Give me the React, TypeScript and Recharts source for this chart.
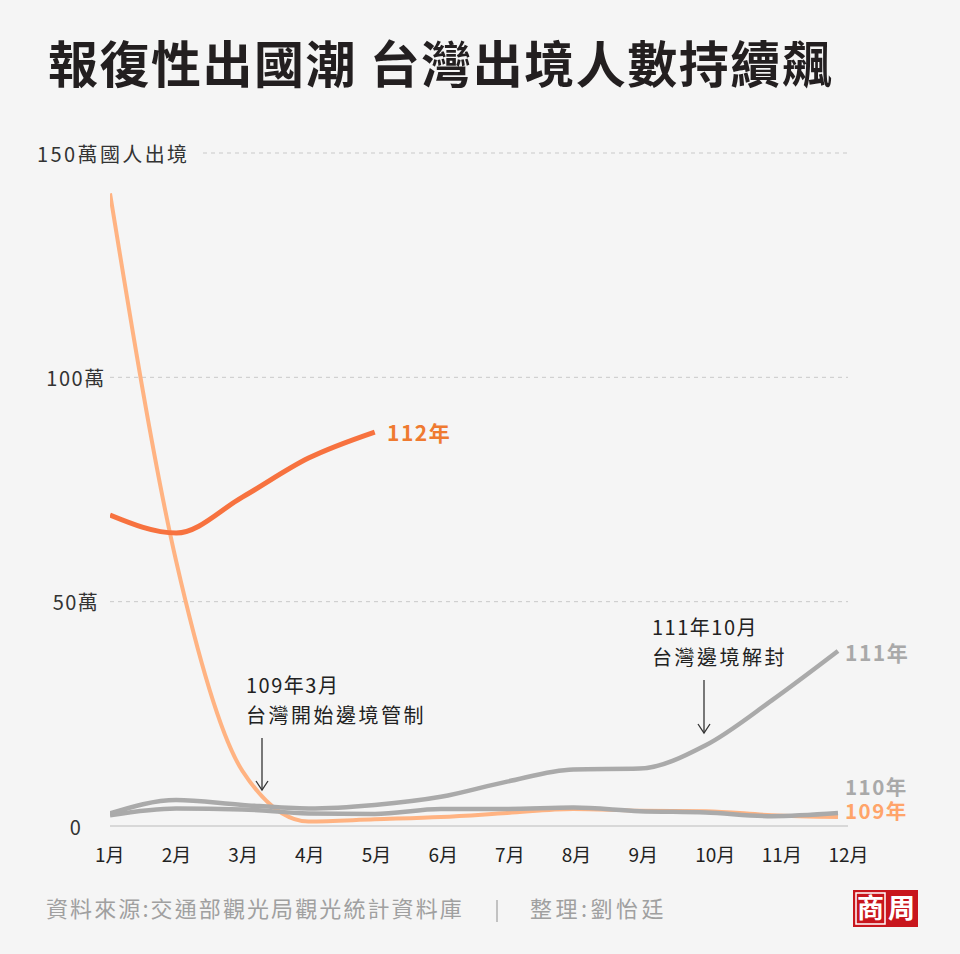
import React from 'react';
import { LineChart, Line, XAxis, YAxis, ReferenceLine } from 'recharts';

const months = ['1月', '2月', '3月', '4月', '5月', '6月', '7月', '8月', '9月', '10月', '11月', '12月'];
const monthIndex = [1, 2, 3, 4, 5, 6, 7, 8, 9, 10, 11, 12];

// 單位：萬人次
const y109 = [141, 59, 12.3, 1.0, 1.5, 2.0, 2.9, 3.8, 3.4, 3.3, 2.4, 2.0];
const y110 = [2.4, 3.9, 3.7, 2.8, 2.7, 3.8, 3.8, 4.1, 3.3, 3.0, 2.2, 2.9];
const y111 = [2.8, 5.8, 4.7, 3.9, 4.7, 6.5, 9.9, 12.6, 12.8, 18.0, 28, 39];
const y112 = [69.3, 65.3, 73.3, 82, 87.8];

const yTicks = [0, 50, 100, 150];
const yTickLabels = ['0', '50萬', '100萬', '150萬國人出境'];

const title = '報復性出國潮 台灣出境人數持續飆';
const source = '資料來源:交通部觀光局觀光統計資料庫';
const editor = '整理:劉怡廷';

const data = monthIndex.map((m, i) => ({
  m,
  y109: y109[i],
  y110: y110[i],
  y111: y111[i],
  y112: i < y112.length ? y112[i] : null,
}));

const FONT = "'Noto Sans CJK TC', 'Noto Sans CJK SC', 'Noto Sans', sans-serif";
const BG = '#f5f5f5';
const ORANGE_DARK = '#f7723f';
const ORANGE_LIGHT = '#ffb382';
const GRAY = '#aaaaaa';

function XTick(props: any) {
  const { x, payload } = props;
  const i = payload.value - 1;
  return (
    <text x={x - 15 + i * 0.5} y={862} textAnchor="start" fontSize={19} fill="#222" fontFamily={FONT}>
      {months[i]}
    </text>
  );
}

function YTick(props: any) {
  const { y, payload } = props;
  const i = yTicks.indexOf(payload.value);
  const isTop = payload.value === 150;
  return (
    <text
      x={isTop ? 37 : 76}
      y={y}
      textAnchor={isTop ? 'start' : 'middle'}
      dominantBaseline="central"
      fontSize={20}
      letterSpacing={isTop ? 2.4 : 1.5}
      fill="#333"
      fontFamily={FONT}
    >
      {yTickLabels[i]}
    </text>
  );
}

function Arrow({ x, y1, y2 }: { x: number; y1: number; y2: number }) {
  return (
    <g stroke="#333" strokeWidth={1.3} fill="none">
      <line x1={x} y1={y1} x2={x} y2={y2} />
      <polyline points={`${x - 6},${y2 - 9} ${x},${y2} ${x + 6},${y2 - 9}`} />
    </g>
  );
}

export default function App() {
  return (
    <div style={{ position: 'absolute', left: 0, top: 0, width: 960, height: 954, background: BG, overflow: 'hidden' }}>
      <div style={{ position: 'absolute', left: 0, top: 0 }}>
        <LineChart width={960} height={954} data={data} margin={{ top: 153, right: 112, bottom: 98, left: 0 }}>
          <XAxis
            dataKey="m"
            type="number"
            domain={[1, 12.151]}
            ticks={monthIndex}
            allowDataOverflow
            axisLine={false}
            tickLine={false}
            height={30}
            tick={<XTick />}
          />
          <YAxis
            type="number"
            domain={[0, 150]}
            ticks={yTicks}
            axisLine={false}
            tickLine={false}
            width={110}
            tick={<YTick />}
          />
          <ReferenceLine y={50} stroke="#c9c9c9" strokeDasharray="4 4" />
          <ReferenceLine y={100} stroke="#c9c9c9" strokeDasharray="4 4" />
          <ReferenceLine
            segment={[{ x: 2.405, y: 150 }, { x: 12.151, y: 150 }]}
            stroke="#c9c9c9"
            strokeDasharray="4 4"
          />
          <ReferenceLine y={0} stroke="#bbbbbb" />
          <Line type="monotone" dataKey="y109" stroke={ORANGE_LIGHT} strokeWidth={4} dot={false} activeDot={false} isAnimationActive={false} />
          <Line type="monotone" dataKey="y110" stroke={GRAY} strokeWidth={4.5} dot={false} activeDot={false} isAnimationActive={false} />
          <Line type="monotone" dataKey="y111" stroke={GRAY} strokeWidth={4.5} dot={false} activeDot={false} isAnimationActive={false} />
          <Line type="monotone" dataKey="y112" stroke={ORANGE_DARK} strokeWidth={5} dot={false} activeDot={false} connectNulls={false} isAnimationActive={false} />
        </LineChart>
      </div>
      <svg width={960} height={954} style={{ position: 'absolute', left: 0, top: 0, pointerEvents: 'none' }} fontFamily={FONT}>
        <text x={48} y={83} fontSize={50} fontWeight={700} letterSpacing={1.5} fill="#231f20">{title}</text>

        <text x={387} y={441} fontSize={21} fontWeight={700} letterSpacing={1.5} fill="#ef7a30">112年</text>
        <text x={845} y={661} fontSize={21} fontWeight={700} letterSpacing={1.5} fill="#a9a9a9">111年</text>
        <text x={845} y={795} fontSize={20.5} fontWeight={700} letterSpacing={1.5} fill="#a9a9a9">110年</text>
        <text x={845} y={819} fontSize={20.5} fontWeight={700} letterSpacing={1.5} fill="#ffa46a">109年</text>

        <text x={246} y={693} fontSize={20} letterSpacing={1.5} fill="#222">109年3月</text>
        <text x={246} y={723} fontSize={20} letterSpacing={2.5} fill="#222">台灣開始邊境管制</text>
        <Arrow x={262} y1={738} y2={790} />

        <text x={652} y={635} fontSize={20} letterSpacing={1.5} fill="#222">111年10月</text>
        <text x={652} y={665} fontSize={20} letterSpacing={2.5} fill="#222">台灣邊境解封</text>
        <Arrow x={704} y1={680} y2={733} />

        <text x={46} y={917} fontSize={22} letterSpacing={2.1} fill="#a0a0a0">{source}</text>
        <line x1={497} y1={900} x2={497} y2={922} stroke="#a0a0a0" strokeWidth={1.2} />
        <text x={530} y={917} fontSize={22} letterSpacing={3.5} fill="#a0a0a0">{editor}</text>

        <rect x={853} y={890} width={65} height={37} fill="#c8161d" />
        <rect x={856} y={893} width={29} height={31} fill="none" stroke="#fff" strokeWidth={1.5} />
        <text x={870.5} y={918} fontSize={27} fontWeight={700} textAnchor="middle" fill="#fff">商</text>
        <text x={901.5} y={918} fontSize={27} fontWeight={700} textAnchor="middle" fill="#fff">周</text>
      </svg>
    </div>
  );
}
